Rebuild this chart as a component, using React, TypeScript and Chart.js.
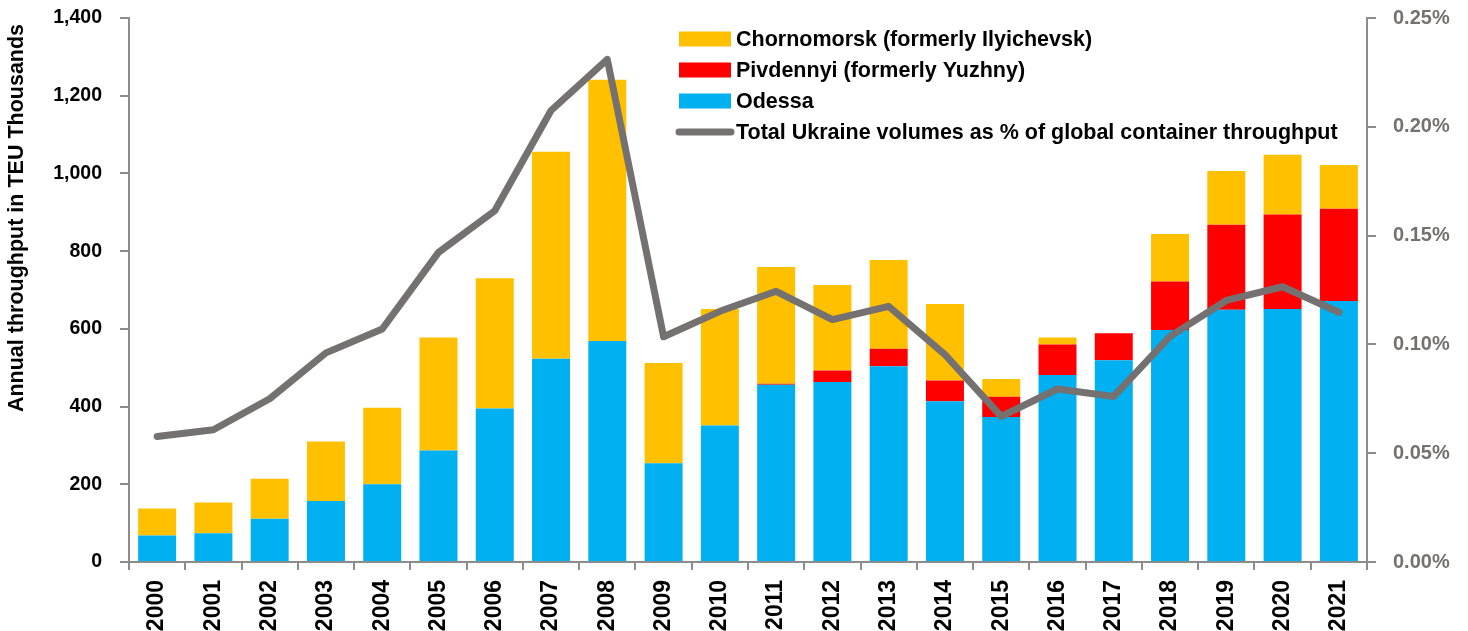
import React, { useEffect, useRef } from "react";
import { Chart, registerables } from "chart.js";

Chart.register(...registerables);

const years = ["2000","2001","2002","2003","2004","2005","2006","2007","2008","2009","2010","2011","2012","2013","2014","2015","2016","2017","2018","2019","2020","2021"];
const odessa = [68, 74, 111, 157, 200, 287, 395, 523, 569, 254, 351, 456, 463, 504, 414, 373, 481, 519, 597, 649, 651, 672];
const pivdennyi = [0, 0, 0, 0, 0, 0, 0, 0, 0, 0, 0, 3, 30, 45, 53, 52, 79, 70, 125, 219, 243, 237];
const chornomorsk = [70, 79, 103, 153, 197, 291, 335, 533, 672, 258, 300, 300, 220, 228, 197, 46, 18, 0, 122, 138, 154, 113];
const sharePct = [0.0577, 0.0608, 0.075, 0.0961, 0.1071, 0.1423, 0.1614, 0.2075, 0.231, 0.1035, 0.1152, 0.1244, 0.1114, 0.1175, 0.0953, 0.0669, 0.0795, 0.0761, 0.1037, 0.1202, 0.1265, 0.1148];

const yAxisTitle = "Annual throughput in TEU Thousands";
const legendLabels = [
  "Chornomorsk (formerly Ilyichevsk)",
  "Pivdennyi (formerly Yuzhny)",
  "Odessa",
  "Total Ukraine volumes as % of global container throughput",
];

const C_YELLOW = "#FFC000";
const C_RED = "#FF0000";
const C_BLUE = "#00B0F0";
const C_LINE = "#767171";
const C_AXIS = "#8c8c8c";
const FONT = '"Liberation Sans", Arial, sans-serif';

export default function App() {
  const ref = useRef<HTMLCanvasElement>(null);

  useEffect(() => {
    const canvas = ref.current!;
    const overlay = {
      id: "overlay",
      afterDraw(chart: any) {
        const ctx = chart.ctx as CanvasRenderingContext2D;
        ctx.save();
        // y-axis title
        ctx.translate(17, 218);
        ctx.rotate(-Math.PI / 2);
        ctx.font = `bold 21.5px ${FONT}`;
        ctx.fillStyle = "#000";
        ctx.textAlign = "center";
        ctx.textBaseline = "middle";
        ctx.fillText(yAxisTitle, 0, 0);
        ctx.restore();

        // legend
        ctx.save();
        const colors = [C_YELLOW, C_RED, C_BLUE];
        const x0 = 679;
        const sw = 52;
        const rows = [39, 70, 101, 132];
        ctx.font = `bold 21.5px ${FONT}`;
        ctx.textAlign = "left";
        ctx.textBaseline = "middle";
        for (let i = 0; i < 4; i++) {
          const cy = rows[i];
          if (i < 3) {
            ctx.fillStyle = colors[i];
            ctx.fillRect(x0, cy - 7.5, sw, 15);
          } else {
            ctx.strokeStyle = C_LINE;
            ctx.lineWidth = 7;
            ctx.lineCap = "round";
            ctx.beginPath();
            ctx.moveTo(x0, cy);
            ctx.lineTo(x0 + sw, cy);
            ctx.stroke();
          }
          ctx.fillStyle = "#000";
          ctx.fillText(legendLabels[i], 736, cy + 1);
        }
        ctx.restore();
      },
    };

    const chart = new Chart(canvas, {
      type: "bar",
      data: {
        labels: years,
        datasets: [
          {
            type: "line",
            label: legendLabels[3],
            data: sharePct,
            yAxisID: "y1",
            borderColor: C_LINE,
            backgroundColor: C_LINE,
            borderWidth: 7,
            pointRadius: 0,
            tension: 0,
            borderCapStyle: "round",
            borderJoinStyle: "round",
            order: 0,
          } as any,
          { label: legendLabels[2], data: odessa, backgroundColor: C_BLUE, yAxisID: "y", order: 1, stack: "s" },
          { label: legendLabels[1], data: pivdennyi, backgroundColor: C_RED, yAxisID: "y", order: 1, stack: "s" },
          { label: legendLabels[0], data: chornomorsk, backgroundColor: C_YELLOW, yAxisID: "y", order: 1, stack: "s" },
        ],
      },
      options: {
        responsive: false,
        devicePixelRatio: 1,
        animation: false,
        layout: { padding: { top: 18, left: 0, right: 0, bottom: 0 } },
        datasets: { bar: { categoryPercentage: 1, barPercentage: 0.675 } },
        plugins: { legend: { display: false }, tooltip: { enabled: false }, title: { display: false } },
        scales: {
          x: {
            stacked: true,
            offset: true,
            grid: { display: true, drawOnChartArea: false, drawTicks: true, tickLength: 8, color: C_AXIS, lineWidth: 2, offset: true },
            border: { display: true, color: C_AXIS, width: 2 },
            ticks: { minRotation: 90, maxRotation: 90, autoSkip: false, padding: 10, color: "#000", font: { family: FONT, size: 23, weight: "bold" } },
            afterFit: (s: any) => { s.height = 69; s.paddingLeft = 0; s.paddingRight = 0; },
          },
          y: {
            stacked: true,
            position: "left",
            min: 0,
            max: 1400,
            grid: { drawOnChartArea: false, drawTicks: true, tickLength: 9, color: C_AXIS, lineWidth: 2 },
            border: { display: true, color: C_AXIS, width: 2 },
            ticks: {
              stepSize: 200,
              padding: 18,
              color: "#000",
              font: { family: FONT, size: 19.5, weight: "bold" },
              callback: (v: any) => Number(v).toLocaleString("en-US"),
            },
            afterFit: (s: any) => { s.width = 129; s.paddingTop = 0; s.paddingBottom = 0; },
          },
          y1: {
            position: "right",
            min: 0,
            max: 0.25,
            grid: { drawOnChartArea: false, drawTicks: true, tickLength: 9, color: C_AXIS, lineWidth: 2 },
            border: { display: true, color: C_AXIS, width: 2 },
            ticks: {
              stepSize: 0.05,
              padding: 17,
              color: C_LINE,
              font: { family: FONT, size: 20, weight: "bold" },
              callback: (v: any) => Number(v).toFixed(2) + "%",
            },
            afterFit: (s: any) => { s.width = 101; s.paddingTop = 0; s.paddingBottom = 0; },
          },
        },
      } as any,
      plugins: [overlay],
    });
    return () => chart.destroy();
  }, []);

  return (
    <div style={{ position: "fixed", left: 0, top: 0, width: 1468, height: 631, background: "#fff" }}>
      <canvas ref={ref} width={1468} height={631} style={{ display: "block", width: 1468, height: 631 }} />
    </div>
  );
}
